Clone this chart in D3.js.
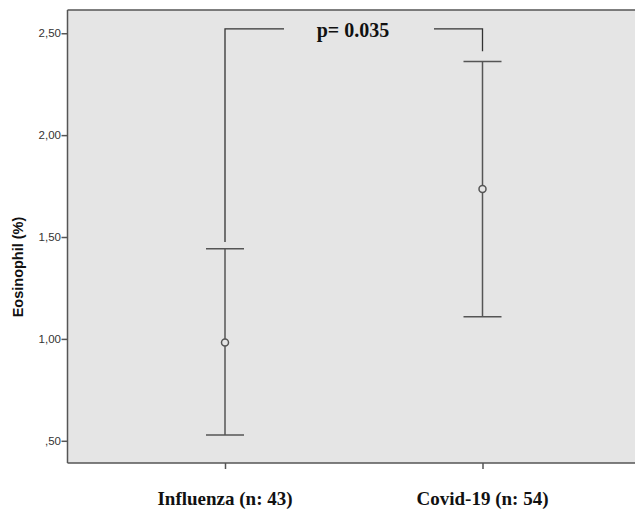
<!DOCTYPE html>
<html>
<head>
<meta charset="utf-8">
<script src="https://cdn.jsdelivr.net/npm/d3@7"></script>
<style>
  body { margin: 0; background: #fff; }
  svg { display: block; }
</style>
</head>
<body>
<div id="chart"></div>
<script>
// groups and their mean with 95% CI
const groups = ["Influenza (n: 43)", "Covid-19 (n: 54)"];
const means = [0.982, 1.736];
const lower = [0.528, 1.109];
const upper = [1.442, 2.361];
const yTicks = [0.5, 1.0, 1.5, 2.0, 2.5];
const pLabel = "p= 0.035";

const width = 635, height = 509;
const margin = { top: 10, right: 0, bottom: 46, left: 67.5 };

const svg = d3.select('#chart').append('svg')
    .attr('width', width)
    .attr('height', height);

const y = d3.scaleLinear()
    .domain([0.391, 2.614])
    .range([height - margin.bottom, margin.top]);

const x = d3.scalePoint()
    .domain(groups)
    .range([225, 482.5]);

// plot background
svg.append('rect')
    .attr('x', margin.left)
    .attr('y', margin.top)
    .attr('width', width - margin.left + 2)
    .attr('height', height - margin.bottom - margin.top)
    .attr('fill', '#e5e5e5');

// top frame line
svg.append('line')
    .attr('x1', margin.left).attr('x2', width)
    .attr('y1', margin.top).attr('y2', margin.top)
    .attr('stroke', '#555').attr('stroke-width', 1.5);

// y axis
const yAxis = svg.append('g')
    .attr('transform', `translate(${margin.left},0)`)
    .call(d3.axisLeft(y).tickValues(yTicks).tickSize(6).tickSizeOuter(0)
        .tickFormat(d => d3.format('.2f')(d).replace('.', ',').replace(/^0/, '')));
yAxis.select('.domain').attr('stroke', '#555').attr('stroke-width', 1.5)
    .attr('d', `M0,${margin.top}V${height - margin.bottom}`);
yAxis.selectAll('.tick line').attr('stroke', '#555').attr('stroke-width', 1.5);
yAxis.selectAll('.tick text')
    .attr('x', -6.5)
    .attr('fill', '#333')
    .style('font-family', 'Arial, "Liberation Sans", sans-serif')
    .style('font-size', '11.5px');

// x axis
const xAxis = svg.append('g')
    .attr('transform', `translate(0,${height - margin.bottom})`)
    .call(d3.axisBottom(x).tickSize(6).tickSizeOuter(0).tickFormat(''));
xAxis.select('.domain').attr('stroke', '#555').attr('stroke-width', 1.5)
    .attr('d', `M${margin.left},0H${width}`);
xAxis.selectAll('.tick line').attr('stroke', '#555').attr('stroke-width', 1.5);

svg.selectAll('.xlabel')
    .data(groups)
    .enter().append('text')
    .attr('class', 'xlabel')
    .attr('x', d => x(d))
    .attr('y', 505)
    .attr('text-anchor', 'middle')
    .attr('fill', '#111')
    .style('font-family', '"Times New Roman", "Liberation Serif", serif')
    .style('font-weight', 'bold')
    .style('font-size', '19px')
    .text(d => d);

// y title
svg.append('text')
    .attr('transform', 'translate(23,267) rotate(-90)')
    .attr('text-anchor', 'middle')
    .attr('fill', '#111')
    .style('font-family', 'Arial, "Liberation Sans", sans-serif')
    .style('font-weight', 'bold')
    .style('font-size', '14.5px')
    .text('Eosinophil (%)');

// error bars
const bars = svg.append('g').selectAll('g')
    .data(groups.map((g, i) => ({ g, mean: means[i], lo: lower[i], hi: upper[i] })))
    .enter().append('g')
    .attr('stroke', '#555')
    .attr('stroke-width', 1.5)
    .attr('fill', 'none');

bars.append('line')
    .attr('x1', d => x(d.g)).attr('x2', d => x(d.g))
    .attr('y1', d => y(d.lo)).attr('y2', d => y(d.hi));
bars.append('line')
    .attr('x1', d => x(d.g) - 19).attr('x2', d => x(d.g) + 19)
    .attr('y1', d => y(d.hi)).attr('y2', d => y(d.hi));
bars.append('line')
    .attr('x1', d => x(d.g) - 19).attr('x2', d => x(d.g) + 19)
    .attr('y1', d => y(d.lo)).attr('y2', d => y(d.lo));
bars.append('circle')
    .attr('cx', d => x(d.g)).attr('cy', d => y(d.mean))
    .attr('r', 3.5)
    .attr('fill', '#e5e5e5');

// significance bracket
const bracketY = y(2.521);
const bracket = svg.append('g')
    .attr('stroke', '#333').attr('stroke-width', 1.3).attr('fill', 'none');
bracket.append('path')
    .attr('d', `M${x(groups[0])},${y(1.475)}V${bracketY}H284`);
bracket.append('path')
    .attr('d', `M434,${bracketY}H${x(groups[1])}V${y(2.412)}`);

svg.append('text')
    .attr('x', 353)
    .attr('y', 37)
    .attr('text-anchor', 'middle')
    .attr('fill', '#111')
    .style('font-family', '"Times New Roman", "Liberation Serif", serif')
    .style('font-weight', 'bold')
    .style('font-size', '20px')
    .text(pLabel);
</script>
</body>
</html>
